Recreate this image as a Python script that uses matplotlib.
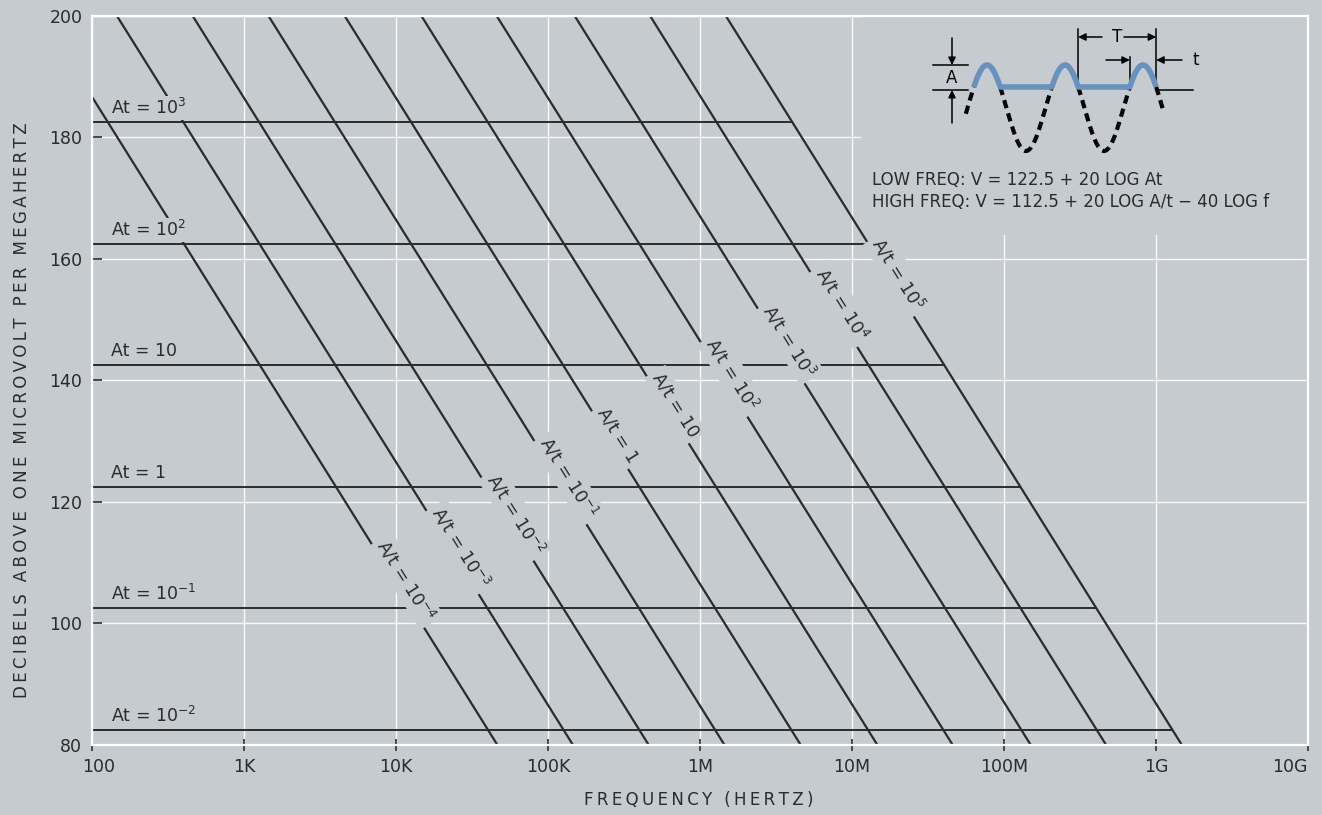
import numpy as np
import matplotlib
matplotlib.use("Agg")
import matplotlib.pyplot as plt
from matplotlib.patches import Rectangle
from matplotlib.transforms import ScaledTranslation, offset_copy

# ---------------- data ----------------
at_labels = ["At = 10$^{3}$", "At = 10$^{2}$", "At = 10", "At = 1",
             "At = 10$^{-1}$", "At = 10$^{-2}$"]
at_levels_db = [182.5, 162.5, 142.5, 122.5, 102.5, 82.5]

ratio_labels = ["A/t = 10$^{-4}$", "A/t = 10$^{-3}$", "A/t = 10$^{-2}$",
                "A/t = 10$^{-1}$", "A/t = 1", "A/t = 10", "A/t = 10$^{2}$",
                "A/t = 10$^{3}$", "A/t = 10$^{4}$", "A/t = 10$^{5}$"]
ratio_freq_at_80db = [4.65e4, 1.46e5, 4.6e5, 1.45e6, 4.6e6,
                      1.47e7, 4.6e7, 1.5e8, 4.7e8, 1.48e9]
ratio_label_db = [107, 112.5, 118, 124, 131, 136, 141, 146.5, 152.5, 157.5]
slope_db_per_decade = -40.0

x_ticks = [1e2, 1e3, 1e4, 1e5, 1e6, 1e7, 1e8, 1e9, 1e10]
x_tick_labels = ["100", "1K", "10K", "100K", "1M", "10M", "100M", "1G", "10G"]
y_ticks = [80, 100, 120, 140, 160, 180, 200]

# ---------------- style ----------------
W, H, DPI = 1322, 815, 100
BG = "#c6cbd0"
INK = "#2b2b2b"
BLUE = "#6792bd"
plt.rcParams["font.family"] = ["DejaVu Sans"]
plt.rcParams["mathtext.fontset"] = "dejavusans"


def spaced(s):
    return "\u2009".join(s)


fig = plt.figure(figsize=(W / DPI, H / DPI), dpi=DPI, facecolor=BG)
ax_l, ax_r, ax_t, ax_b = 92, 1308, 16, 745
ax = fig.add_axes([ax_l / W, (H - ax_b) / H, (ax_r - ax_l) / W, (ax_b - ax_t) / H])
ax.set_facecolor(BG)
ax.set_xscale("log")
ax.set_xlim(1e2, 1e10)
ax.set_ylim(80, 200)
ax.set_axisbelow(True)

ax.set_xticks(x_ticks)
ax.set_xticklabels(x_tick_labels)
ax.minorticks_off()
ax.set_yticks(y_ticks)
ax.tick_params(axis="x", direction="inout", length=8, width=1.2, color=INK,
               labelsize=12.5, labelcolor=INK, pad=5)
ax.tick_params(axis="y", direction="in", length=7, width=1.2, color=INK,
               labelsize=12.5, labelcolor=INK, pad=7)
ax.grid(True, color="white", lw=1.0, alpha=0.9)
for s in ax.spines.values():
    s.set_color("white")
    s.set_linewidth(1.6)

xl = ax.get_xticklabels()
xl[0].set_transform(xl[0].get_transform() + ScaledTranslation(7 / DPI, 0, fig.dpi_scale_trans))
xl[-1].set_horizontalalignment("right")

# mask grid behind inset diagram
ax.add_patch(Rectangle((0.632, 0.70), 0.368, 0.30, transform=ax.transAxes,
                       facecolor=BG, edgecolor="none", zorder=0.7))

# diagonal A/t lines
span = (200 - 80) / slope_db_per_decade  # decades (negative)
f_last = ratio_freq_at_80db[-1]
fig.canvas.draw()
lab_trans = offset_copy(ax.transData, fig=fig, x=11, y=0, units="dots")
for lab, f80, vdb in zip(ratio_labels, ratio_freq_at_80db, ratio_label_db):
    xs = [f80 * 10 ** span, f80]
    ys = [200, 80]
    ax.plot(xs, ys, color=INK, lw=1.6, solid_capstyle="butt", zorder=2)
    p1 = ax.transData.transform((xs[0], ys[0]))
    p2 = ax.transData.transform((xs[1], ys[1]))
    ang = np.degrees(np.arctan2(p2[1] - p1[1], p2[0] - p1[0]))
    fx = f80 * 10 ** ((vdb - 80) / slope_db_per_decade)
    ax.text(fx, vdb, lab, rotation=ang, rotation_mode="anchor", ha="center",
            va="center", fontsize=12.5, color=INK, transform=lab_trans,
            bbox=dict(facecolor=BG, edgecolor="none", pad=2.5), zorder=4)

# horizontal At lines (end on the highest A/t line)
for lab, lev in zip(at_labels, at_levels_db):
    f_end = f_last * 10 ** ((lev - 80) / slope_db_per_decade)
    ax.plot([1e2, f_end], [lev, lev], color=INK, lw=1.4, zorder=2)
    ax.text(1.33e2, lev + 2.3, lab, ha="left", va="center", fontsize=12.5,
            color=INK, bbox=dict(facecolor=BG, edgecolor="none", pad=1.5), zorder=4)

# axis titles
fig.text(699 / W, 1 - 800 / H, spaced("FREQUENCY (HERTZ)"), ha="center",
         va="center", fontsize=12, color=INK)
fig.text(22 / W, 1 - 410 / H, spaced("DECIBELS ABOVE ONE MICROVOLT PER MEGAHERTZ"),
         ha="center", va="center", rotation=90, fontsize=12, color=INK)

# ---------------- inset waveform diagram (pixel coordinates) ----------------
x0p, x1p, y0p, y1p = 900, 1240, 20, 170
dax = fig.add_axes([x0p / W, (H - y1p) / H, (x1p - x0p) / W, (y1p - y0p) / H])
dax.set_xlim(x0p, x1p)
dax.set_ylim(y1p, y0p)
dax.axis("off")
dax.patch.set_alpha(0)

P, yc, amp, yb = 78.0, 108.0, 43.0, 87.0
xph = 967.5


def wave(x):
    return yc - amp * np.sin(2 * np.pi * (x - xph) / P)


cross = np.degrees(np.arcsin((yc - yb) / amp)) / 360 * P
b_start = [xph + cross + k * P for k in range(3)]
b_end = [xph + P / 2 - cross + k * P for k in range(3)]

xx = np.linspace(b_start[0], b_end[2], 600)
yy = np.minimum(wave(xx), yb)
dax.plot(xx, yy, color=BLUE, lw=4, solid_capstyle="butt", zorder=3)

dash = dict(color="black", lw=3, dashes=(2.0, 1.3), zorder=2)
for k in range(2):
    xt = np.linspace(b_end[k], b_start[k + 1], 200)
    dax.plot(xt, wave(xt), **dash)
xt = np.linspace(b_start[0] - 8, b_start[0], 20)
dax.plot(xt, wave(xt), **dash)
xt = np.linspace(b_end[2], b_end[2] + 7, 20)
dax.plot(xt, wave(xt), **dash)

thin = dict(color="black", lw=1.1)
top_ref, bot_ref = 65, 90
dax.plot([933, 968], [top_ref, top_ref], **thin)
dax.plot([933, 968], [bot_ref, bot_ref], **thin)
dax.plot([b_end[2], 1193], [bot_ref, bot_ref], **thin)
arr = dict(arrowstyle="-|>", color="black", lw=1.1, mutation_scale=11,
           shrinkA=0, shrinkB=0)
dax.annotate("", xy=(952, top_ref), xytext=(952, 38), arrowprops=arr)
dax.annotate("", xy=(952, bot_ref), xytext=(952, 123), arrowprops=arr)
dax.text(952, 78, "A", ha="center", va="center", fontsize=12)

dax.plot([b_end[1], b_end[1]], [29, 86], **thin)
dax.plot([b_end[2], b_end[2]], [29, 89], **thin)
dax.annotate("", xy=(b_end[1], 37), xytext=(1102, 37), arrowprops=arr)
dax.annotate("", xy=(b_end[2], 37), xytext=(1124, 37), arrowprops=arr)
dax.text((b_end[1] + b_end[2]) / 2, 37, "T", ha="center", va="center", fontsize=12)

dax.plot([b_start[2], b_start[2]], [57, 86], **thin)
dax.annotate("", xy=(b_start[2], 60), xytext=(1106, 60), arrowprops=arr)
dax.annotate("", xy=(b_end[2], 60), xytext=(1182, 60), arrowprops=arr)
dax.text(1196, 60, "t", ha="center", va="center", fontsize=12)

fig.text(872 / W, 1 - 180 / H, "LOW FREQ: V = 122.5 + 20 LOG At",
         ha="left", va="center", fontsize=12, color=INK)
fig.text(872 / W, 1 - 202 / H, "HIGH FREQ: V = 112.5 + 20 LOG A/t \u2212 40 LOG f",
         ha="left", va="center", fontsize=12, color=INK)

fig.savefig("out.png", dpi=DPI, facecolor=BG)
